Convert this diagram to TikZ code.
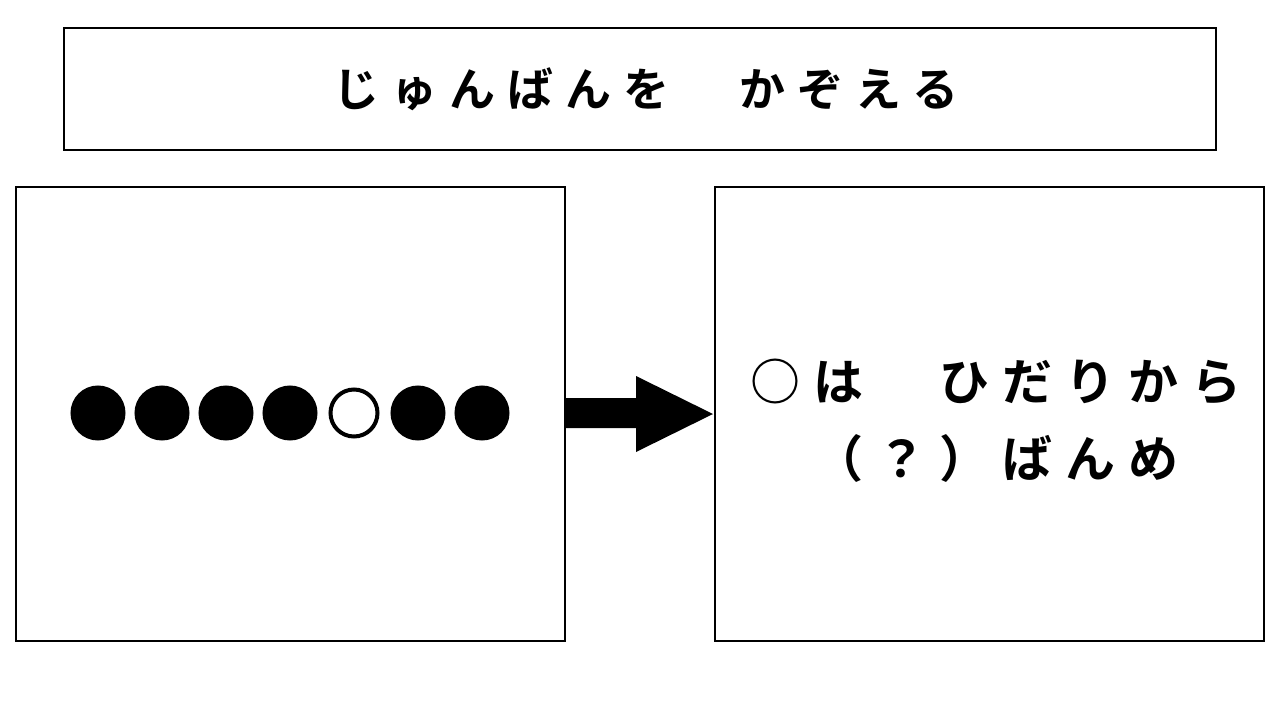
\documentclass[tikz,border=0pt]{standalone}
\usepackage{fontspec}
\newfontfamily\cjk[LetterSpace=26]{Noto Sans CJK JP Bold}
\begin{document}
\begin{tikzpicture}[x=1pt,y=-1pt,
  box/.style={draw,line width=2pt},
  dot/.style={circle,draw,line width=4pt,minimum size=51pt,inner sep=0pt},
  txt/.style={font=\cjk\fontsize{46}{70}\selectfont,align=center}]
\useasboundingbox (0,0) rectangle (1280,720);
\node[box,minimum width=1152pt,minimum height=122pt] (title) at (640,89) {};
\node[txt] at (646,89) {じゅんばんを　かぞえる};
\draw[box,line width=1.5pt] (16,187) rectangle (565,641) coordinate (L);
\draw[box,line width=1.5pt] (715,187) rectangle (1264,641) coordinate (R);
\foreach \i in {0,...,6}{
  \ifnum\i=4
    \node[dot,fill=white,minimum size=47pt] (d\i) at (98+64*\i,413) {};
  \else
    \node[dot,fill=black] (d\i) at (98+64*\i,413) {};
  \fi}
\fill (566,398) -- (636,398) -- (636,376) -- (713,414) -- (636,452) -- (636,428) -- (566,428) -- cycle;
\node[txt,font=\cjk\fontsize{50}{77}\selectfont] (rt) at (996,421) {○は　ひだりから\\（？）ばんめ};
\end{tikzpicture}
\end{document}
